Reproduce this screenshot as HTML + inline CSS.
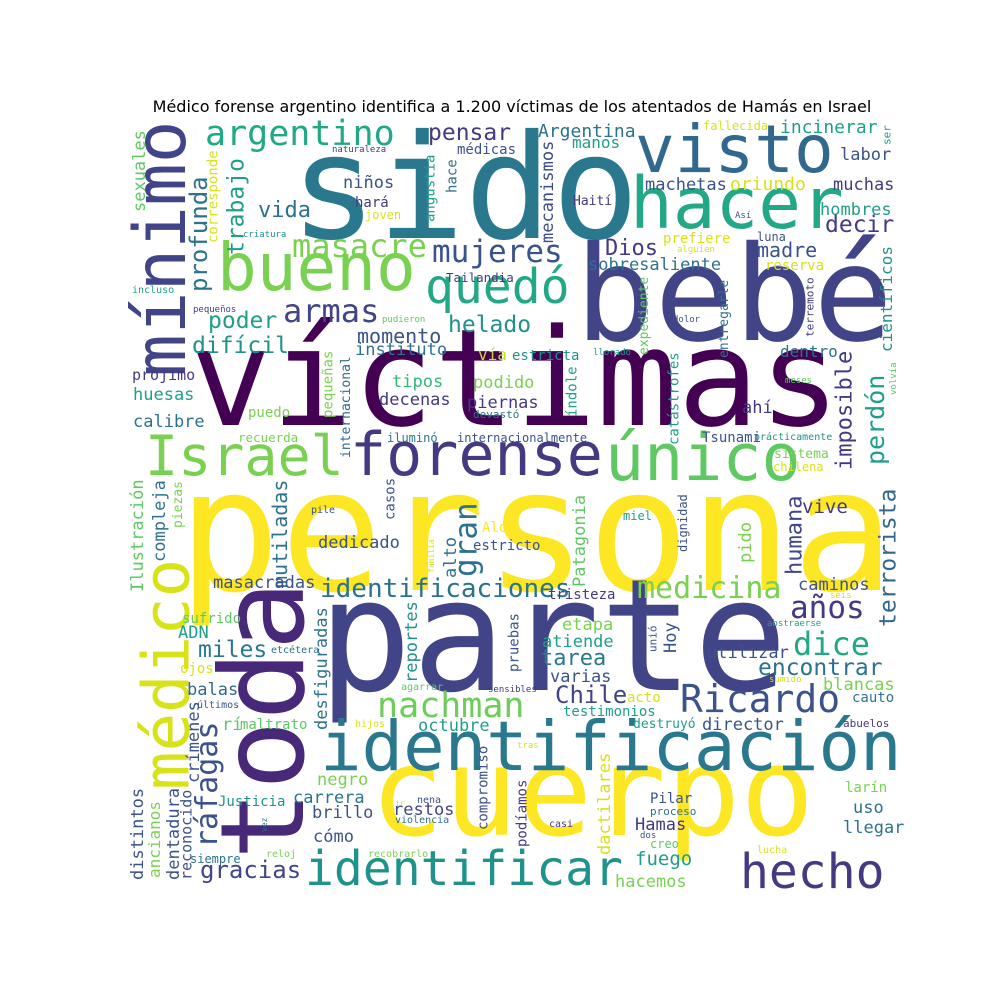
<!DOCTYPE html>
<html><head><meta charset="utf-8"><style>
html,body{margin:0;padding:0;background:#fff;}
#chart{position:absolute;left:0;top:0;}
text{font-family:"DejaVu Sans Mono","Liberation Mono",monospace;}
</style></head><body>
<svg id="chart" width="1000" height="1000" viewBox="0 0 1000 1000" xmlns="http://www.w3.org/2000/svg">
<text x="512" y="112" text-anchor="middle" style="font-family:'DejaVu Sans','Liberation Sans',sans-serif;font-size:16px;fill:#000">Médico forense argentino identifica a 1.200 víctimas de los atentados de Hamás en Israel</text>
<g id="cloud"></g>
</svg>
<script>
// words and their weights (font size)
const words = [
"sido","bebé","víctimas","persona","parte","cuerpo","identificación","toda","médico","mínimo",
"visto","hacer","bueno","quedó","Israel","forense","único","identificar","hecho","Ricardo",
"nachman","medicina","argentino","masacre","mujeres","armas","helado","identificaciones","gran","poder",
"difícil","momento","instituto","tipos","decenas","pequeñas","huesas","calibre","puedo","recuerda",
"prójimo","iluminó","profunda","trabajo","corresponde","sexuales","vida","niños","hará","joven",
"criatura","naturaleza","angustia","incluso","pequeños","pudieron","internacional","pensar","médicas","hace",
"mecanismos","manos","Argentina","fallecida","incinerar","ser","labor","machetas","oriundo","muchas",
"Haití","Así","hombres","decir","prefiere","alguien","luna","Dios","madre","sobresaliente",
"reserva","expediente","entregarle","terremoto","dolor","científicos","dentro","llorado","perdón","imposible",
"meses","índole","catástrofes","ahí","Tsunami","prácticamente","sistema","chilena","vía","estricta",
"podido","piernas","devastó","internacionalmente","terrorista","vive","humana","pido","dignidad","miel",
"Patagonia","caminos","años","dice","encontrar","blancas","cauto","abstraerse","seis","sumido",
"abuelos","director","utilizar","etapa","unió","Hoy","atiende","tarea","varias","Chile",
"acto","testimonios","destruyó","tristeza","reportes","pruebas","sensibles","agarrar","octubre","hijos",
"estricto","Alo","alto","dedicado","casos","pile","mutiladas","masacradas","compleja","piezas",
"Ilustración","desfiguradas","miles","ADN","sufrido","ojos","balas","últimos","rí","maltrato",
"etcétera","ráfagas","crímenes","dentadura","ancianos","distintos","reconocido","siempre","Justicia","carrera",
"brillo","cómo","negro","reloj","gracias","recobrarlo","restos","nena","proceso","compromiso",
"podíamos","tras","casi","dos","dactilares","lucha","creo","Hamas","fuego","hacemos",
"Pilar","uso","llegar","larín","Tailandia","volvía","familia","vez","violencia","ir"];
const sizes = [
145,132,135,170,156,123,69,116,64,71,
66,71,66,48,55,60,65,48,48,38,
35,30,35,32,31,32,23,26,31,23,
23,20,17,17,17,14,17,17,14,12.5,
15,12,24,23,14,17,22,17,14,12,
9,9,14,10,9,9,13,23,14,14,
17,16,18,12,18,11,17,17,18,17,
13,9,17,23,14,9,12,22,20,17,
14,13,13,11,9,16,16,9,25,22,
9,14,14,17,14,10,13,12,16,14,
17,17,11,12,23,19,22,17,12,12,
17,17,31,32,23,17,14,9,9,9,
11,17,17,17,11,17,17,22,17,24,
14,14,13,14,17,14,9,10,17,10,
14,14,17,17,14,10,20,17,17,13,
17,17,23,17,14,14,17,10,17,14,
10,30,17,17,16,17,15,12,14,17,
17,17,17,10,24,10,17,10,11,14,
14,9,10,9,17,10,12,17,19,17,
14,17,17,14,12.5,9,8,8,10,8];
// layout: [x, y, rotated, color]  (rotated: x = left edge, y = bottom)
const layout = [
[290,238,0,"#2a788e"],[575,340,0,"#414487"],[190,425,0,"#440154"],[178,590,0,"#fde725"],[318,690,0,"#414487"],[370,835,0,"#fde725"],[320,770,0,"#2a788e"],[215,860,1,"#482878"],[140,790,1,"#d8e219"],[131,377,1,"#414487"],
[635,172,0,"#31688e"],[630,228,0,"#22a884"],[217,290,0,"#7ad151"],[425,303,0,"#22a884"],[145,475,0,"#7ad151"],[350,475,0,"#443983"],[605,480,0,"#5ec962"],[305,885,0,"#21918c"],[740,888,0,"#443983"],[680,712,0,"#3b528b"],
[377,717,0,"#6ccd5a"],[637,598,0,"#7ad151"],[205,145,0,"#22a884"],[292,257,0,"#7ad151"],[432,262,0,"#3b528b"],[283,322,0,"#414487"],[448,332,0,"#21918c"],[320,597,0,"#2c728e"],[453,577,1,"#2c728e"],[208,328,0,"#1f9e89"],
[192,353,0,"#21918c"],[357,343,0,"#3b528b"],[355,355,0,"#2c728e"],[392,387,0,"#35b779"],[379,405,0,"#443983"],[322,418,1,"#7ad151"],[133,400,0,"#1f9e89"],[133,427,0,"#2c728e"],[248,417,0,"#7ad151"],[238,442,0,"#7ad151"],
[132,380,0,"#443983"],[387,442,0,"#2a788e"],[189,292,1,"#2c728e"],[226,255,1,"#1f9e89"],[207,243,1,"#d8e219"],[132,212,1,"#5ec962"],[258,217,0,"#2c728e"],[343,188,0,"#3b528b"],[355,207,0,"#443983"],[365,219,0,"#d8e219"],
[243,237,0,"#21918c"],[332,152,0,"#443983"],[424,222,1,"#1f9e89"],[132,293,0,"#1f9e89"],[193,312,0,"#443983"],[382,322,0,"#5ec962"],[340,458,1,"#31688e"],[428,140,0,"#443983"],[457,154,0,"#3b528b"],[446,193,1,"#31688e"],
[540,243,1,"#3e4a89"],[572,148,0,"#1f9e89"],[538,137,0,"#2c728e"],[703,130,0,"#d8e219"],[780,133,0,"#1f9e89"],[882,145,1,"#1f9e89"],[840,160,0,"#3b528b"],[645,190,0,"#3b528b"],[730,190,0,"#d8e219"],[833,190,0,"#443983"],
[573,205,0,"#443983"],[735,218,0,"#3b528b"],[820,215,0,"#1f9e89"],[825,232,0,"#443983"],[663,243,0,"#d8e219"],[677,252,0,"#d8e219"],[757,241,0,"#3b528b"],[605,255,0,"#443983"],[757,257,0,"#3b528b"],[588,270,0,"#2c728e"],
[765,270,0,"#d8e219"],[638,355,1,"#5ec962"],[718,358,1,"#2c728e"],[805,337,1,"#443983"],[673,322,0,"#3b528b"],[880,352,1,"#21918c"],[780,357,0,"#2c728e"],[593,355,0,"#1f9e89"],[865,465,1,"#1f9e89"],[835,470,1,"#443983"],
[785,383,0,"#5ec962"],[566,417,1,"#1f9e89"],[668,445,1,"#1f9e89"],[742,413,0,"#443983"],[702,442,0,"#3b528b"],[754,440,0,"#21918c"],[774,458,0,"#7ad151"],[773,471,0,"#d8e219"],[478,360,0,"#c2df23"],[512,360,0,"#21918c"],
[473,388,0,"#7ad151"],[467,408,0,"#443983"],[473,418,0,"#2c728e"],[457,442,0,"#3b528b"],[878,627,1,"#31688e"],[802,513,0,"#443983"],[785,575,1,"#414487"],[738,563,1,"#7ad151"],[678,552,1,"#3b528b"],[623,520,0,"#1f9e89"],
[572,587,1,"#5ec962"],[798,590,0,"#3b528b"],[790,618,0,"#443983"],[793,655,0,"#22a884"],[758,675,0,"#2c728e"],[823,690,0,"#7ad151"],[852,702,0,"#2c728e"],[767,626,0,"#1f9e89"],[830,598,0,"#d8e219"],[769,682,0,"#d8e219"],
[843,727,0,"#443983"],[702,730,0,"#3b528b"],[707,658,0,"#3b528b"],[562,630,0,"#7ad151"],[648,652,1,"#3b528b"],[663,653,1,"#3b528b"],[542,647,0,"#1f9e89"],[540,665,0,"#2a788e"],[550,682,0,"#3b528b"],[555,703,0,"#414487"],
[627,702,0,"#d8e219"],[563,716,0,"#1f9e89"],[633,728,0,"#1f9e89"],[548,599,0,"#443983"],[404,683,1,"#21918c"],[508,672,1,"#3b528b"],[488,692,0,"#443983"],[401,690,0,"#5ec962"],[418,731,0,"#1f9e89"],[355,727,0,"#d8e219"],
[473,550,0,"#3b528b"],[482,532,0,"#fde725"],[443,578,1,"#2c728e"],[318,548,0,"#3b528b"],[384,520,1,"#3b528b"],[311,513,0,"#3b528b"],[272,588,1,"#2c728e"],[213,588,0,"#3b528b"],[152,562,1,"#2c728e"],[172,528,1,"#7ad151"],
[130,592,1,"#5ec962"],[314,730,1,"#2c728e"],[198,657,0,"#2a788e"],[178,638,0,"#1f9e89"],[182,623,0,"#5ec962"],[180,673,0,"#d8e219"],[187,695,0,"#31688e"],[197,708,0,"#3b528b"],[222,730,0,"#5ec962"],[240,729,0,"#5ec962"],
[271,653,0,"#2c728e"],[194,848,1,"#3b528b"],[186,783,1,"#3b528b"],[166,880,1,"#3b528b"],[148,878,1,"#7ad151"],[130,880,1,"#3b528b"],[180,880,1,"#3b528b"],[190,863,0,"#2c728e"],[218,806,0,"#21918c"],[293,803,0,"#2c728e"],
[312,818,0,"#3b528b"],[313,842,0,"#3b528b"],[317,785,0,"#7ad151"],[266,857,0,"#7ad151"],[200,878,0,"#414487"],[368,857,0,"#7ad151"],[393,815,0,"#414487"],[417,803,0,"#3b528b"],[650,815,0,"#2c728e"],[477,830,1,"#3b528b"],
[516,847,1,"#443983"],[517,748,0,"#d8e219"],[549,827,0,"#443983"],[640,838,0,"#3b528b"],[597,855,1,"#d8e219"],[757,853,0,"#d8e219"],[650,848,0,"#5ec962"],[635,830,0,"#443983"],[635,865,0,"#1f9e89"],[615,887,0,"#7ad151"],
[650,803,0,"#3b528b"],[853,813,0,"#2c728e"],[843,833,0,"#2c728e"],[845,792,0,"#7ad151"],[446,282,0,"#443983"],[889,395,1,"#5ec962"],[428,573,1,"#d8e219"],[261,832,1,"#2c728e"],[395,823,0,"#2c728e"],[395,806,0,"#d8e219"]
];
const cloud = document.getElementById('cloud');
const NS = 'http://www.w3.org/2000/svg';
for (let i = 0; i < words.length && i < layout.length; i++) {
  const s = sizes[i];
  const [x, y, r, c] = layout[i];
  const t = document.createElementNS(NS, 'text');
  t.textContent = words[i];
  t.setAttribute('font-size', s);
  t.setAttribute('fill', c);
  if (r) {
    const bx = x + 0.76 * s;
    t.setAttribute('x', bx);
    t.setAttribute('y', y);
    t.setAttribute('transform', 'rotate(-90 ' + bx + ' ' + y + ')');
  } else {
    t.setAttribute('x', x);
    t.setAttribute('y', y);
  }
  
  
  cloud.appendChild(t);
}
</script>
</body></html>
